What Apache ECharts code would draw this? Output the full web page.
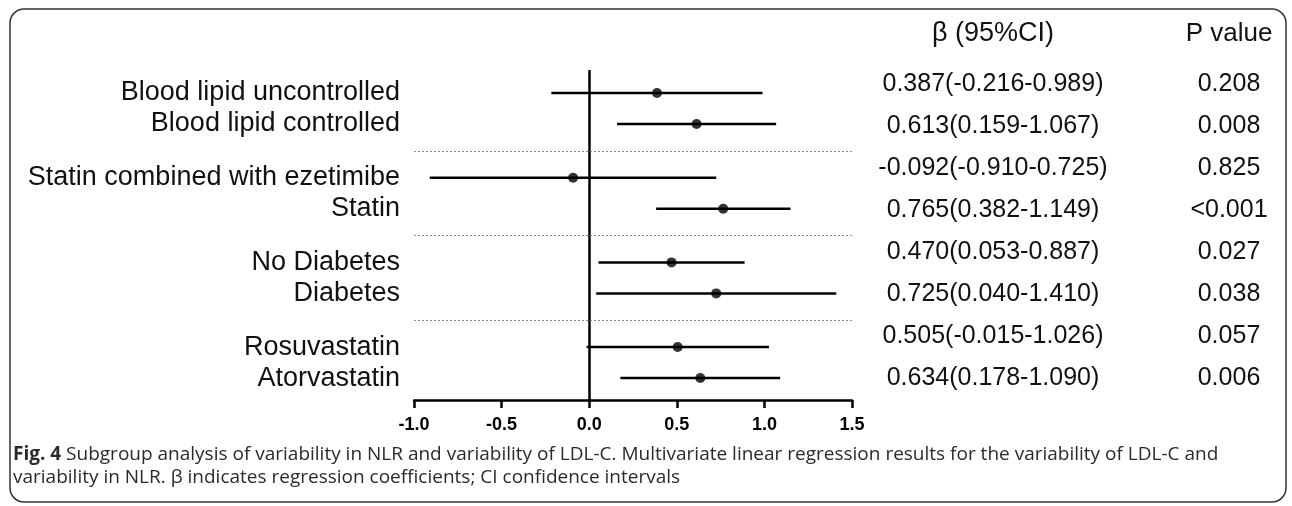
<!DOCTYPE html>
<html>
<head>
<meta charset="utf-8">
<title>Fig. 4 subgroup forest plot</title>
<script src="https://cdn.jsdelivr.net/npm/echarts@6/dist/echarts.min.js"></script>
<style>
    html, body { margin: 0; padding: 0; background: #fff; }
    #chart { width: 1292px; height: 506px; }
</style>
</head>
<body>
<div id="chart"></div>
<script>
// subgroup names, top to bottom
var labels = [
    'Blood lipid uncontrolled', 'Blood lipid controlled',
    'Statin combined with ezetimibe', 'Statin',
    'No Diabetes', 'Diabetes',
    'Rosuvastatin', 'Atorvastatin'
];
// which block each row belongs to (blocks are split by dotted lines)
var groups = [0, 0, 1, 1, 2, 2, 3, 3];
// regression coefficient and 95% CI
var beta = [0.387, 0.613, -0.092, 0.765, 0.470, 0.725, 0.505, 0.634];
var ciLow = [-0.216, 0.159, -0.910, 0.382, 0.053, 0.040, -0.015, 0.178];
var ciHigh = [0.989, 1.067, 0.725, 1.149, 0.887, 1.410, 1.026, 1.090];
var pValues = ['0.208', '0.008', '0.825', '<0.001', '0.027', '0.038', '0.057', '0.006'];
// x axis ticks
var xTicks = [-1.0, -0.5, 0.0, 0.5, 1.0, 1.5];

var FONT = "'Liberation Sans', Arial, Helvetica, sans-serif";
var CAPTION_FONT = "'Open Sans', 'Noto Sans', sans-serif";
var groupStep = 2.732;   // distance between blocks, in row units

// row position on the y axis: block offset + index inside the block
var rowPos = [];
var seen = {};
for (var i = 0; i < labels.length; i++) {
    var g = groups[i];
    seen[g] = (seen[g] === undefined) ? 0 : seen[g] + 1;
    rowPos.push(g * groupStep + seen[g]);
}

// dotted separators sit halfway between two blocks
var sepLines = [];
for (var g2 = 1; g2 <= groups[groups.length - 1]; g2++) {
    sepLines.push({
        yAxis: g2 * groupStep - (groupStep - 1) / 2,
        lineStyle: { type: [2, 2], color: '#8a8a8a', width: 1 }
    });
}

var dotData = [];
var ciData = [];
for (var k = 0; k < labels.length; k++) {
    dotData.push([beta[k], rowPos[k]]);
    ciData.push([ciLow[k], ciHigh[k], rowPos[k]]);
}

function labelFor(value) {
    for (var j = 0; j < rowPos.length; j++) {
        if (Math.abs(rowPos[j] - value) < 1e-6) {
            return labels[j];
        }
    }
    return '';
}

// right hand table: header + one line per row
var tableTop = 84;
var tableStep = 42;
var colBeta = 993;
var colP = 1229;
var graphics = [];

graphics.push({
    type: 'rect',
    shape: { x: 10, y: 9, width: 1276, height: 493, r: 14 },
    style: { fill: 'none', stroke: '#333', lineWidth: 1.5 },
    silent: true
});
graphics.push({
    type: 'text', x: colBeta, y: 34, silent: true,
    style: { text: 'β (95%CI)', font: '27px ' + FONT, fill: '#111', textAlign: 'center', textVerticalAlign: 'middle' }
});
graphics.push({
    type: 'text', x: colP, y: 34, silent: true,
    style: { text: 'P value', font: '26px ' + FONT, fill: '#111', textAlign: 'center', textVerticalAlign: 'middle' }
});
for (var r = 0; r < labels.length; r++) {
    var txt = beta[r].toFixed(3) + '(' + ciLow[r].toFixed(3) + '-' + ciHigh[r].toFixed(3) + ')';
    graphics.push({
        type: 'text', x: colBeta, y: tableTop + r * tableStep, silent: true,
        style: { text: txt, font: '25px ' + FONT, fill: '#111', textAlign: 'center', textVerticalAlign: 'middle' }
    });
    graphics.push({
        type: 'text', x: colP, y: tableTop + r * tableStep, silent: true,
        style: { text: pValues[r], font: '25px ' + FONT, fill: '#111', textAlign: 'center', textVerticalAlign: 'middle' }
    });
}

// caption under the figure
graphics.push({
    type: 'text', x: 13, y: 443, silent: true,
    style: {
        text: '{b|Fig. 4} Subgroup analysis of variability in NLR and variability of LDL-C. Multivariate linear regression results for the variability of LDL-C and\n' +
              'variability in NLR. β indicates regression coefficients; CI confidence intervals',
        font: '19px ' + CAPTION_FONT,
        fill: '#2a2a2a',
        lineHeight: 23,
        rich: {
            b: { font: 'bold 19px ' + CAPTION_FONT, fill: '#2a2a2a', lineHeight: 23 }
        }
    }
});

var chart = echarts.init(document.getElementById('chart'));

var option = {
    animation: false,
    backgroundColor: '#fff',
    grid: { left: 414, top: 70, width: 438, height: 330, containLabel: false },
    xAxis: {
        type: 'value',
        min: xTicks[0],
        max: xTicks[xTicks.length - 1],
        interval: 0.5,
        axisLine: { show: true, onZero: false, lineStyle: { color: '#000', width: 2.5 } },
        axisTick: { show: true, inside: false, length: 8, lineStyle: { color: '#000', width: 2.5 } },
        axisLabel: {
            margin: 16,
            color: '#000',
            fontFamily: FONT,
            fontSize: 18,
            fontWeight: 'bold',
            formatter: function (v) { return v.toFixed(1); }
        },
        splitLine: { show: false }
    },
    yAxis: {
        type: 'value',
        inverse: true,
        min: -0.742,
        max: -0.742 + 330 / 31,
        axisLine: { show: false, onZero: false },
        axisTick: { show: false },
        splitLine: { show: false },
        axisLabel: {
            customValues: rowPos,
            margin: 14,
            color: '#111',
            fontFamily: FONT,
            fontSize: 27,
            formatter: labelFor
        }
    },
    series: [
        {
            // CI whiskers
            type: 'custom',
            data: ciData,
            silent: true,
            renderItem: function (params, api) {
                var a = api.coord([api.value(0), api.value(2)]);
                var b = api.coord([api.value(1), api.value(2)]);
                return {
                    type: 'line',
                    shape: { x1: a[0], y1: a[1], x2: b[0], y2: b[1] },
                    style: { stroke: '#000', lineWidth: 2.5 }
                };
            },
            z: 3
        },
        {
            // point estimates + zero line + block separators
            type: 'scatter',
            data: dotData,
            symbol: 'circle',
            symbolSize: 10,
            itemStyle: { color: '#000' },
            silent: true,
            z: 4,
            markLine: {
                silent: true,
                symbol: ['none', 'none'],
                label: { show: false },
                data: [{ xAxis: 0, lineStyle: { type: 'solid', color: '#000', width: 2.5 } }].concat(sepLines)
            }
        }
    ],
    graphic: graphics
};

chart.setOption(option);
</script>
</body>
</html>
